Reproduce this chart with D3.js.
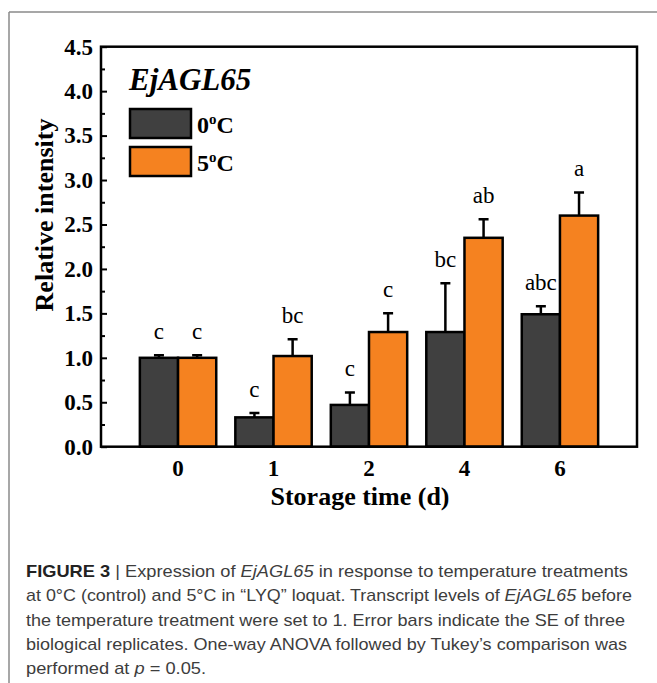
<!DOCTYPE html>
<html>
<head>
<meta charset="utf-8">
<script src="https://cdn.jsdelivr.net/npm/d3@7"></script>
<style>
  html, body { margin: 0; padding: 0; background: #fff; }
  svg { display: block; }
</style>
</head>
<body>
<svg width="657" height="683"></svg>
<script>
const days = ['0', '1', '2', '4', '6'];
const seriesNames = ['0°C', '5°C'];
const seriesColors = ['#404040', '#f58220'];
const mean0 = [1.0, 0.33, 0.47, 1.29, 1.49];
const se0 = [0.03, 0.05, 0.14, 0.55, 0.09];
const letters0 = ['c', 'c', 'c', 'bc', 'abc'];
const mean5 = [1.0, 1.02, 1.29, 2.35, 2.6];
const se5 = [0.03, 0.19, 0.21, 0.21, 0.26];
const letters5 = ['c', 'bc', 'c', 'ab', 'a'];
const yTicks = [0, 0.5, 1.0, 1.5, 2.0, 2.5, 3.0, 3.5, 4.0, 4.5];
const yMinorTicks = [0.25, 0.75, 1.25, 1.75, 2.25, 2.75, 3.25, 3.75, 4.25];
const captionLines = [
  [['b', 'FIGURE 3 '], ['n', '|  Expression of '], ['i', 'EjAGL65'], ['n', ' in response to temperature treatments']],
  [['n', 'at 0°C (control) and 5°C in “LYQ” loquat. Transcript levels of '], ['i', 'EjAGL65'], ['n', ' before']],
  [['n', 'the temperature treatment were set to 1. Error bars indicate the SE of three']],
  [['n', 'biological replicates. One-way ANOVA followed by Tukey’s comparison was']],
  [['n', 'performed at '], ['i', 'p'], ['n', ' = 0.05.']]
];
const captionWidths = [602, 606, 599, 601, 180];

const serif = '"Liberation Serif", "Times New Roman", serif';
const plot = {left: 101, right: 637, top: 46.7, bottom: 446.7};

const rows = days.map((d, i) => ({
  day: d,
  bars: [
    {key: 0, mean: mean0[i], se: se0[i], letter: letters0[i]},
    {key: 1, mean: mean5[i], se: se5[i], letter: letters5[i]}
  ]
}));

const svg = d3.select('svg');

// page frame (top and left rules)
svg.append('line').attr('x1', 9).attr('x2', 657).attr('y1', 12).attr('y2', 12)
  .attr('stroke', '#8a8a8a').attr('stroke-width', 1.5);
svg.append('line').attr('x1', 9).attr('x2', 9).attr('y1', 12).attr('y2', 683)
  .attr('stroke', '#8a8a8a').attr('stroke-width', 1.5);

const x0 = d3.scaleBand().domain(days).range([plot.left, plot.right])
  .paddingInner(0.2).paddingOuter(0.407);
const x1 = d3.scaleBand().domain([0, 1]).range([0, x0.bandwidth()]);
const y = d3.scaleLinear().domain([0, 4.5]).range([plot.bottom, plot.top]);

const groups = svg.append('g').selectAll('g')
  .data(rows).enter().append('g')
  .attr('transform', d => `translate(${x0(d.day)},0)`);

// error bars (upper half only)
groups.selectAll('.err').data(d => d.bars).enter().append('path')
  .attr('class', 'err')
  .attr('d', d => {
    const cx = x1(d.key) + x1.bandwidth() / 2;
    return `M${cx},${y(d.mean)}V${y(d.mean + d.se)}M${cx - 5},${y(d.mean + d.se)}H${cx + 5}`;
  })
  .attr('stroke', '#000').attr('stroke-width', 2.5).attr('fill', 'none');

groups.selectAll('.bar').data(d => d.bars).enter().append('rect')
  .attr('class', 'bar')
  .attr('x', d => x1(d.key))
  .attr('y', d => y(d.mean))
  .attr('width', x1.bandwidth())
  .attr('height', d => y(0) - y(d.mean))
  .attr('fill', d => seriesColors[d.key])
  .attr('stroke', '#000').attr('stroke-width', 2.5);

groups.selectAll('.letter').data(d => d.bars).enter().append('text')
  .attr('class', 'letter')
  .attr('x', d => x1(d.key) + x1.bandwidth() / 2)
  .attr('y', d => y(d.mean + d.se) - 16)
  .attr('text-anchor', 'middle')
  .style('font-family', serif).style('font-size', '23px')
  .text(d => d.letter);

// axes
const yAxis = svg.append('g').attr('transform', `translate(${plot.left},0)`)
  .call(d3.axisLeft(y).tickValues(yTicks).tickFormat(d3.format('.1f')).tickSize(-6).tickPadding(8));
svg.append('g').attr('transform', `translate(${plot.left},0)`)
  .call(d3.axisLeft(y).tickValues(yMinorTicks).tickFormat('').tickSize(-4))
  .call(g => g.select('.domain').remove());
const xAxis = svg.append('g').attr('transform', `translate(0,${plot.bottom})`)
  .call(d3.axisBottom(x0).tickSize(0).tickPadding(13));

[yAxis, xAxis].forEach(g => {
  g.select('.domain').remove();
  g.selectAll('text').attr('fill', '#000')
    .style('font-family', serif).style('font-size', '23px').style('font-weight', 'bold');
});
svg.selectAll('g.tick line').attr('stroke', '#000').attr('stroke-width', 2);

svg.append('rect')
  .attr('x', plot.left).attr('y', plot.top)
  .attr('width', plot.right - plot.left).attr('height', plot.bottom - plot.top)
  .attr('fill', 'none').attr('stroke', '#000').attr('stroke-width', 2.5);

// axis titles
svg.append('text')
  .attr('x', 360).attr('y', 505)
  .attr('text-anchor', 'middle')
  .style('font-family', serif).style('font-size', '26px').style('font-weight', 'bold')
  .text('Storage time (d)');

svg.append('text')
  .attr('transform', 'translate(53,215) rotate(-90)')
  .attr('text-anchor', 'middle')
  .style('font-family', serif).style('font-size', '26px').style('font-weight', 'bold')
  .text('Relative intensity');

// legend
svg.append('text')
  .attr('x', 129).attr('y', 90)
  .style('font-family', serif).style('font-size', '31px')
  .style('font-weight', 'bold').style('font-style', 'italic')
  .text('EjAGL65');

const legend = svg.append('g').selectAll('g')
  .data(seriesNames).enter().append('g')
  .attr('transform', (d, i) => `translate(130,${109 + i * 38})`);
legend.append('rect')
  .attr('width', 61).attr('height', 29)
  .attr('fill', (d, i) => seriesColors[i])
  .attr('stroke', '#000').attr('stroke-width', 2.5);
const legendText = legend.append('text')
  .attr('x', 67).attr('y', 24)
  .style('font-family', serif).style('font-size', '24px').style('font-weight', 'bold');
legendText.append('tspan').text(d => d.split('°')[0]);
legendText.append('tspan').attr('dy', -9).style('font-size', '15px').text('o');
legendText.append('tspan').attr('dy', 9).text('C');

// caption
const caption = svg.append('g').selectAll('text')
  .data(captionLines).enter().append('text')
  .attr('x', 26)
  .attr('y', (d, i) => 577 + i * 24.3)
  .attr('textLength', (d, i) => captionWidths[i])
  .attr('lengthAdjust', 'spacingAndGlyphs')
  .style('font-family', '"Liberation Sans", Arial, sans-serif')
  .style('font-size', '17px')
  .attr('fill', '#3d3d3d');
caption.selectAll('tspan').data(d => d).enter().append('tspan')
  .style('font-weight', d => d[0] === 'b' ? 'bold' : 'normal')
  .style('font-style', d => d[0] === 'i' ? 'italic' : 'normal')
  .attr('fill', d => d[0] === 'b' ? '#222' : null)
  .text(d => d[1]);
</script>
</body>
</html>
